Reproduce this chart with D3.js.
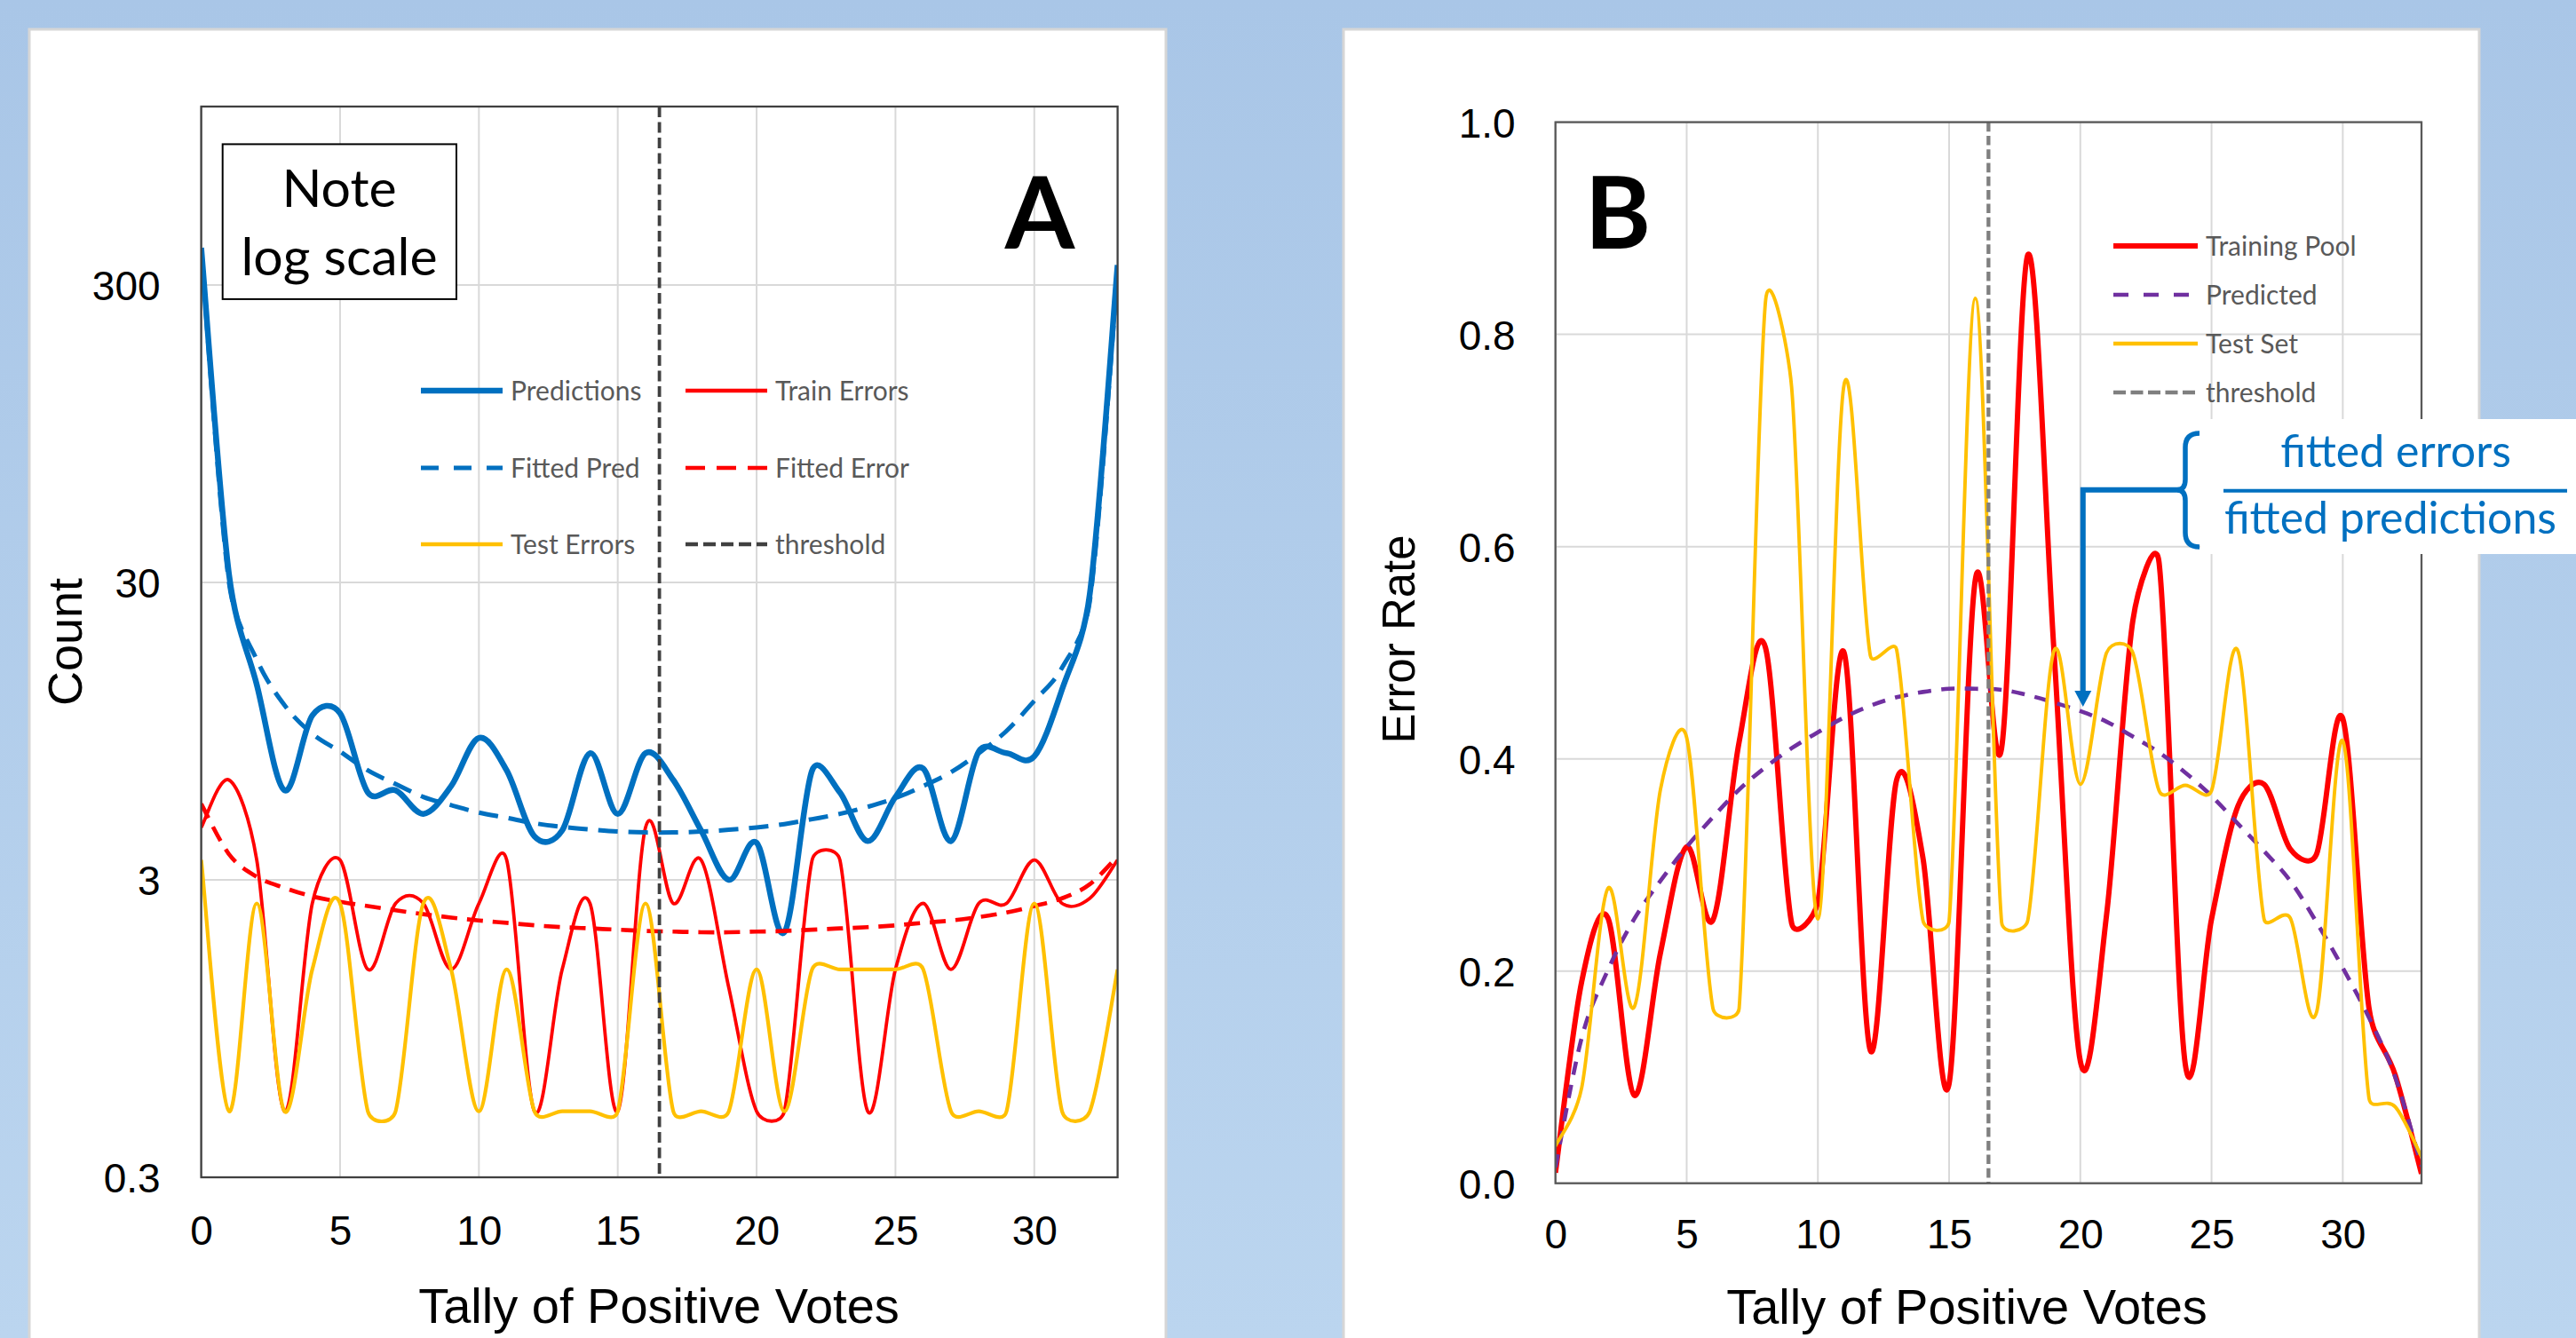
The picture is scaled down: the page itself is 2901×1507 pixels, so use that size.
<!DOCTYPE html>
<html>
<head>
<meta charset="utf-8">
<script src="https://cdn.jsdelivr.net/npm/d3@7"></script>
<style>
  body { margin: 0; overflow: hidden; }
  svg { display: block; }
  .tick text { font-family: "Liberation Sans", Arial, sans-serif; font-size: 46px; fill: #000; }
</style>
</head>
<body>
<script>
// tally of positive votes (x categories)
var tally = [0, 1, 2, 3, 4, 5, 6, 7, 8, 9, 10, 11, 12, 13, 14, 15, 16,
             17, 18, 19, 20, 21, 22, 23, 24, 25, 26, 27, 28, 29, 30, 31, 32, 33];

// panel A: counts (log scale)
var predictions = [400, 32, 13.6, 6.0, 10.7, 10.9, 5.9, 6.0, 5.0, 6.2, 9.0, 7.0, 4.2, 4.4, 8.0, 5.0, 8.0,
                   6.5, 4.4, 3.0, 4.0, 2.0, 7.0, 5.9, 4.05, 5.7, 7.1, 4.05, 8.1, 8.0, 7.8, 13.1, 27.5, 350];
var fittedPred = [390, 30, 16.5, 11.6, 9.3, 8.1, 7.0, 6.3, 5.7, 5.35, 5.05, 4.85, 4.65, 4.52, 4.43, 4.36, 4.33,
                  4.33, 4.36, 4.42, 4.5, 4.62, 4.8, 5.0, 5.28, 5.65, 6.2, 6.9, 8.0, 9.5, 12, 15.5, 26, 330];
var trainErrors = [4.5, 6.5, 3.5, 0.5, 2.5, 3.5, 1.5, 2.5, 2.5, 1.5, 2.5, 3.5, 0.5, 1.5, 2.5, 0.5, 4.5,
                   2.5, 3.5, 1.3, 0.5, 0.5, 3.5, 3.5, 0.5, 1.5, 2.5, 1.5, 2.5, 2.5, 3.5, 2.5, 2.6, 3.5];
var fittedError = [5.4, 3.66, 3.07, 2.82, 2.64, 2.53, 2.45, 2.37, 2.3, 2.24, 2.19, 2.15, 2.11, 2.08, 2.06, 2.04, 2.02,
                   2.01, 2.0, 2.0, 2.01, 2.02, 2.04, 2.06, 2.08, 2.11, 2.15, 2.19, 2.25, 2.33, 2.45, 2.6, 2.9, 3.6];
var testErrors = [3.5, 0.5, 2.5, 0.5, 1.5, 2.5, 0.5, 0.5, 2.5, 1.5, 0.5, 1.5, 0.5, 0.5, 0.5, 0.5, 2.5,
                  0.5, 0.5, 0.5, 1.5, 0.5, 1.5, 1.5, 1.5, 1.5, 1.5, 0.5, 0.5, 0.5, 2.5, 0.5, 0.5, 1.5];

// panel B: error rates
var trainingPool = [0.01, 0.19, 0.25, 0.083, 0.217, 0.317, 0.248, 0.416, 0.505, 0.245, 0.265, 0.5, 0.125, 0.38, 0.307, 0.094, 0.569,
                    0.41, 0.875, 0.5, 0.115, 0.253, 0.53, 0.585, 0.112, 0.249, 0.355, 0.376, 0.315, 0.31, 0.438, 0.165, 0.102, 0.009];
var predictedRate = [0.015, 0.137, 0.201, 0.249, 0.285, 0.317, 0.345, 0.371, 0.392, 0.41, 0.425, 0.439, 0.45, 0.458, 0.463, 0.466, 0.466,
                     0.465, 0.46, 0.453, 0.445, 0.435, 0.421, 0.406, 0.387, 0.365, 0.339, 0.313, 0.285, 0.246, 0.203, 0.156, 0.1, 0.016];
var testSet = [0.035, 0.09, 0.278, 0.166, 0.371, 0.42, 0.165, 0.165, 0.83, 0.75, 0.249, 0.753, 0.497, 0.503, 0.248, 0.247, 0.834,
               0.246, 0.248, 0.502, 0.376, 0.5, 0.5, 0.37, 0.375, 0.37, 0.502, 0.249, 0.25, 0.161, 0.417, 0.08, 0.072, 0.025];

var threshold = 16.5;
var arrowTally = 20;

var tallyTicks = [0, 5, 10, 15, 20, 25, 30];
var countTicks = [0.3, 3, 30, 300];
var rateTicks = [0, 0.2, 0.4, 0.6, 0.8, 1.0];

var calibri = "Lato, Carlito, 'Open Sans', sans-serif";
var arial = "'Liberation Sans', Arial, sans-serif";

var svg = d3.select("body").append("svg")
  .attr("width", 2901)
  .attr("height", 1507);

var defs = svg.append("defs");
var grad = defs.append("linearGradient")
  .attr("id", "bg").attr("x1", 0).attr("y1", 0).attr("x2", 0).attr("y2", 1);
grad.append("stop").attr("offset", "0%").attr("stop-color", "#a9c6e7");
grad.append("stop").attr("offset", "100%").attr("stop-color", "#bbd5ef");

svg.append("rect").attr("width", 2901).attr("height", 1507).attr("fill", "url(#bg)");

// white panels
svg.append("rect").attr("x", 33).attr("y", 33).attr("width", 1280).attr("height", 1490)
  .attr("fill", "#fff").attr("stroke", "#d6d6d6").attr("stroke-width", 3);
svg.append("rect").attr("x", 1513).attr("y", 33).attr("width", 1279).attr("height", 1490)
  .attr("fill", "#fff").attr("stroke", "#d6d6d6").attr("stroke-width", 3);

var styles = {
  pred:    { color: "#0070C0", width: 6.5, dash: null,       legendDash: null },
  fitPred: { color: "#0070C0", width: 5,   dash: "22,12",    legendDash: "20,17" },
  train:   { color: "#FF0000", width: 3.8, dash: null,       legendDash: null },
  fitErr:  { color: "#FF0000", width: 4.7, dash: "18,11",    legendDash: "22,13" },
  test:    { color: "#FFC000", width: 4.2, dash: null,       legendDash: null },
  thrA:    { color: "#404040", width: 3.8, dash: "12,5.5",   legendDash: "14,6" },
  pool:    { color: "#FF0000", width: 6,   dash: null,       legendDash: null },
  predB:   { color: "#7030A0", width: 4.6, dash: "15,11.5",  legendDash: "17,17" },
  testB:   { color: "#FFC000", width: 3.9, dash: null,       legendDash: null },
  thrB:    { color: "#7F7F7F", width: 4.3, dash: "10.7,4.6", legendDash: "14,5.5" }
};

// spreadsheet-style smoothed line: bezier segments whose control arms are
// 1/6 of the neighbour chord, capped at half of the segment length
function smoothPath(pts) {
  var path = d3.path();
  var dist = function(a, b) { return Math.hypot(b[0] - a[0], b[1] - a[1]); };
  path.moveTo(pts[0][0], pts[0][1]);
  for (var i = 0; i < pts.length - 1; i++) {
    var p0 = pts[i > 0 ? i - 1 : i], p1 = pts[i], p2 = pts[i + 1];
    var p3 = pts[i + 2 < pts.length ? i + 2 : i + 1];
    var d12 = dist(p1, p2), d02 = dist(p0, p2), d13 = dist(p1, p3);
    var f1 = d02 > 0 ? Math.min(1 / 6, d12 / (2 * d02)) : 0;
    var f2 = d13 > 0 ? Math.min(1 / 6, d12 / (2 * d13)) : 0;
    path.bezierCurveTo(
      p1[0] + f1 * (p2[0] - p0[0]), p1[1] + f1 * (p2[1] - p0[1]),
      p2[0] - f2 * (p3[0] - p1[0]), p2[1] - f2 * (p3[1] - p1[1]),
      p2[0], p2[1]);
  }
  return path.toString();
}

function drawPanel(p) {
  var g = svg.append("g");
  var x = p.x, y = p.y;
  var left = x.range()[0], right = x.range()[1];
  var bottom = y.range()[0], top = y.range()[1];

  g.append("clipPath").attr("id", p.id + "clip")
    .append("rect").attr("x", left).attr("y", top)
    .attr("width", right - left).attr("height", bottom - top);

  // gridlines
  g.append("g").selectAll("line").data(tallyTicks).enter().append("line")
    .attr("x1", function(d) { return x(d); }).attr("x2", function(d) { return x(d); })
    .attr("y1", top).attr("y2", bottom)
    .attr("stroke", "#d9d9d9").attr("stroke-width", 2);
  g.append("g").selectAll("line").data(p.yTicks).enter().append("line")
    .attr("x1", left).attr("x2", right)
    .attr("y1", function(d) { return y(d); }).attr("y2", function(d) { return y(d); })
    .attr("stroke", "#d9d9d9").attr("stroke-width", 2);

  var series = g.append("g").attr("clip-path", "url(#" + p.id + "clip)");
  p.series.forEach(function(s) {
    var st = styles[s.style];
    var pts = tally.map(function(t, i) { return [x(t), y(s.values[i])]; });
    series.append("path")
      .attr("d", smoothPath(pts))
      .attr("fill", "none")
      .attr("stroke", st.color)
      .attr("stroke-width", st.width)
      .attr("stroke-dasharray", st.dash)
      .attr("stroke-linejoin", "round");
  });

  // threshold
  var st = styles[p.thrStyle];
  g.append("line")
    .attr("x1", x(threshold)).attr("x2", x(threshold))
    .attr("y1", top).attr("y2", bottom)
    .attr("stroke", st.color).attr("stroke-width", st.width)
    .attr("stroke-dasharray", st.dash);

  // frame
  g.append("rect").attr("x", left).attr("y", top)
    .attr("width", right - left).attr("height", bottom - top)
    .attr("fill", "none").attr("stroke", p.frame).attr("stroke-width", 2.3);

  // axes
  var xa = g.append("g")
    .attr("transform", "translate(0," + bottom + ")")
    .call(d3.axisBottom(x).tickValues(tallyTicks).tickSize(0).tickFormat(d3.format("d")));
  xa.select(".domain").remove();
  xa.selectAll("text").attr("y", p.xLabelDy).attr("dy", null);

  var ya = g.append("g")
    .attr("transform", "translate(" + left + ",0)")
    .call(d3.axisLeft(y).tickValues(p.yTicks).tickSize(0).tickPadding(p.yPad).tickFormat(p.yFormat));
  ya.select(".domain").remove();
  ya.selectAll("text").attr("dy", "0.36em");

  // axis titles
  g.append("text")
    .attr("x", p.xTitle[0]).attr("y", p.xTitle[1])
    .attr("text-anchor", "middle")
    .style("font-family", arial).style("font-size", "56px")
    .text("Tally of Positive Votes");
  g.append("text")
    .attr("transform", "translate(" + p.yTitle[0] + "," + p.yTitle[1] + ") rotate(-90)")
    .attr("text-anchor", "middle")
    .style("font-family", arial).style("font-size", p.yTitleSize + "px")
    .text(p.yTitleText);

  // panel letter
  g.append("text")
    .attr("x", p.letterPos[0]).attr("y", p.letterPos[1])
    .attr("text-anchor", "middle")
    .style("font-family", calibri).style("font-weight", "bold").style("font-size", "113px")
    .text(p.letter);

  // legend
  p.legend.forEach(function(item) {
    var ls = styles[item.style];
    var lx = item.pos[0], ly = item.pos[1];
    g.append("line")
      .attr("x1", lx).attr("x2", lx + p.legendLen)
      .attr("y1", ly).attr("y2", ly)
      .attr("stroke", ls.color).attr("stroke-width", Math.max(ls.width, 4.5))
      .attr("stroke-dasharray", ls.legendDash);
    g.append("text")
      .attr("x", lx + p.legendLen + 9).attr("y", ly).attr("dy", "0.35em")
      .style("font-family", calibri).style("font-size", "30px").attr("fill", "#595959")
      .text(item.name);
  });
  return g;
}

var xA = d3.scaleLinear().domain([0, 33]).range([226.6, 1258.6]);
var yA = d3.scaleLog().domain([0.3, 1194]).range([1326, 120]);
var xB = d3.scaleLinear().domain([0, 33]).range([1751.7, 2727]);
var yB = d3.scaleLinear().domain([0, 1]).range([1332.7, 137.6]);

drawPanel({
  id: "A", x: xA, y: yA, yTicks: countTicks, yPad: 46, xLabelDy: 76,
  yFormat: function(d) { return String(d); },
  frame: "#404040",
  series: [
    { values: predictions, style: "pred" },
    { values: trainErrors, style: "train" },
    { values: fittedPred, style: "fitPred" },
    { values: fittedError, style: "fitErr" },
    { values: testErrors, style: "test" }
  ],
  thrStyle: "thrA",
  xTitle: [742, 1490], yTitle: [92, 723], yTitleSize: 54, yTitleText: "Count",
  letter: "A", letterPos: [1171, 280],
  legendLen: 92,
  legend: [
    { name: "Predictions", style: "pred", pos: [474, 440] },
    { name: "Train Errors", style: "train", pos: [772, 440] },
    { name: "Fitted Pred", style: "fitPred", pos: [474, 527] },
    { name: "Fitted Error", style: "fitErr", pos: [772, 527] },
    { name: "Test Errors", style: "test", pos: [474, 613] },
    { name: "threshold", style: "thrA", pos: [772, 613] }
  ]
});

drawPanel({
  id: "B", x: xB, y: yB, yTicks: rateTicks, yPad: 45, xLabelDy: 73,
  yFormat: d3.format(".1f"),
  frame: "#595959",
  series: [
    { values: trainingPool, style: "pool" },
    { values: predictedRate, style: "predB" },
    { values: testSet, style: "testB" }
  ],
  thrStyle: "thrB",
  xTitle: [2215, 1491], yTitle: [1593, 720], yTitleSize: 51, yTitleText: "Error Rate",
  letter: "B", letterPos: [1822, 280],
  legendLen: 95,
  legend: [
    { name: "Training Pool", style: "pool", pos: [2380, 277] },
    { name: "Predicted", style: "predB", pos: [2380, 332] },
    { name: "Test Set", style: "testB", pos: [2380, 387] },
    { name: "threshold", style: "thrB", pos: [2380, 442] }
  ]
});

// "Note log scale" box
svg.append("rect").attr("x", 250.7).attr("y", 162.4).attr("width", 263.3).attr("height", 174.5)
  .attr("fill", "#fff").attr("stroke", "#000").attr("stroke-width", 2);
svg.append("text").attr("x", 382).attr("y", 232.5).attr("text-anchor", "middle")
  .style("font-family", calibri).style("font-size", "59px").text("Note");
svg.append("text").attr("x", 382).attr("y", 310).attr("text-anchor", "middle")
  .style("font-family", calibri).style("font-size", "59px").text("log scale");

// fraction annotation in panel B
var blue = "#0070C0";
svg.append("rect").attr("x", 2478).attr("y", 472).attr("width", 423).attr("height", 152).attr("fill", "#fff");
svg.append("line").attr("x1", 2504).attr("x2", 2891).attr("y1", 552.8).attr("y2", 552.8)
  .attr("stroke", blue).attr("stroke-width", 4);
svg.append("text").attr("x", 2698).attr("y", 526).attr("text-anchor", "middle")
  .style("font-family", calibri).style("font-size", "50px").attr("fill", blue).text("fitted errors");
svg.append("text").attr("x", 2692).attr("y", 601).attr("text-anchor", "middle")
  .style("font-family", calibri).style("font-size", "50px").attr("fill", blue).text("fitted predictions");

// brace
svg.append("path")
  .attr("d", "M2477,488 Q2461,488 2461,504 L2461,540 Q2461,551.5 2452,551.8 Q2461,552 2461,564 L2461,600 Q2461,616 2477,616")
  .attr("fill", "none").attr("stroke", blue).attr("stroke-width", 5.5);

// arrow down to the predicted curve
var ax = xB(arrowTally) + 3;
var tipY = yB(predictedRate[tally.indexOf(arrowTally)]) - 5;
svg.append("path")
  .attr("d", "M2455,551.8 L" + ax + ",551.8 L" + ax + "," + (tipY - 16))
  .attr("fill", "none").attr("stroke", blue).attr("stroke-width", 6);
svg.append("path")
  .attr("d", "M" + (ax - 9.5) + "," + (tipY - 18) + " L" + (ax + 9.5) + "," + (tipY - 18) + " L" + ax + "," + tipY + " Z")
  .attr("fill", blue);
</script>
</body>
</html>
